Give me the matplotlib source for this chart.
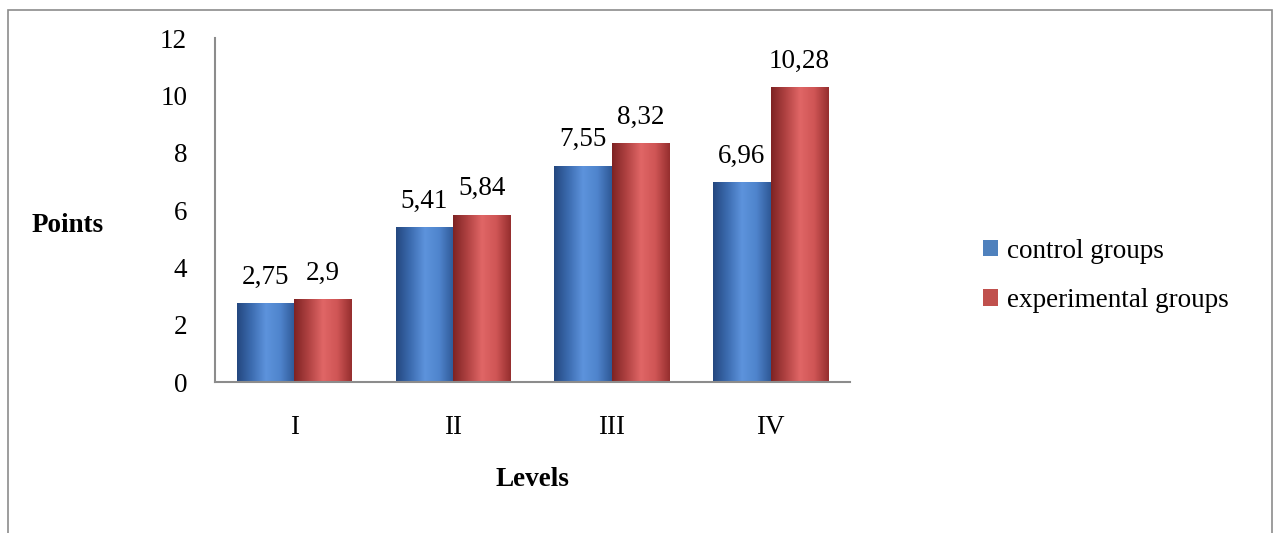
import numpy as np
import matplotlib.pyplot as plt
from matplotlib.colors import LinearSegmentedColormap
from matplotlib.patches import Rectangle

levels = ["I", "II", "III", "IV"]
control = [2.75, 5.41, 7.55, 6.96]
experimental = [2.9, 5.84, 8.32, 10.28]
control_labels = ["2,75", "5,41", "7,55", "6,96"]
experimental_labels = ["2,9", "5,84", "8,32", "10,28"]

plt.rcParams['font.family'] = ['Liberation Serif', 'DejaVu Serif']
FS = 19.5

fig = plt.figure(figsize=(12.77, 5.33), dpi=100)
fig.patches.append(Rectangle((8 / 1277, -0.01), 1264 / 1277, 1.01 - 10 / 533,
                             transform=fig.transFigure, fill=False,
                             edgecolor="#8c8c8c", linewidth=1.2))
ax = fig.add_axes([215 / 1277, 1 - 382 / 533, 635 / 1277, 344 / 533])

blue_cmap = LinearSegmentedColormap.from_list(
    "b", ["#24477f", "#3c6cb0", "#5d93dc", "#4f84cc", "#2e5896"])
red_cmap = LinearSegmentedColormap.from_list(
    "r", ["#7e2323", "#b04242", "#e06666", "#cf5555", "#952e2e"])

x = np.arange(len(levels))
w = 0.362
bc = ax.bar(x - w / 2, control, w, color="#4f81bd")
be = ax.bar(x + w / 2, experimental, w, color="#c0504d")

grad = np.linspace(0, 1, 256).reshape(1, -1)
for bars, cmap in [(bc, blue_cmap), (be, red_cmap)]:
    for b in bars:
        x0, y0 = b.get_x(), b.get_y()
        im = ax.imshow(grad, cmap=cmap, aspect="auto",
                       extent=[x0, x0 + b.get_width(), y0, y0 + b.get_height()],
                       zorder=b.get_zorder() + 0.1)
        im.set_clip_path(b)

for i in range(len(levels)):
    ax.annotate(control_labels[i], (x[i] - w / 2, control[i]),
                xytext=(0, 14), textcoords="offset points",
                ha="center", va="baseline", fontsize=FS)
    ax.annotate(experimental_labels[i], (x[i] + w / 2, experimental[i]),
                xytext=(0, 14), textcoords="offset points",
                ha="center", va="baseline", fontsize=FS)

ax.set_xlim(-0.5, 3.5)
ax.set_ylim(0, 12)
ax.set_yticks([0, 2, 4, 6, 8, 10, 12])
ax.set_xticks(x)
ax.set_xticklabels(levels)
ax.tick_params(axis="both", labelsize=FS, length=0)
ax.tick_params(axis="x", pad=24)
ax.tick_params(axis="y", pad=20)
for s in ["top", "right"]:
    ax.spines[s].set_visible(False)
for s in ["left", "bottom"]:
    ax.spines[s].set_color("#8c8c8c")
    ax.spines[s].set_linewidth(1.5)

fig.text(68 / 1277, 1 - 226 / 533, "Points", fontsize=FS, fontweight="bold",
         ha="center", va="center")
fig.text(532 / 1277, 1 - 479 / 533, "Levels", fontsize=FS, fontweight="bold",
         ha="center", va="center")

ax.legend([bc, be], ["control groups", "experimental groups"],
          loc="center left", bbox_to_anchor=(983 / 1277, 1 - 276 / 533),
          bbox_transform=fig.transFigure, frameon=False, fontsize=FS,
          handlelength=0.55, handleheight=0.55, handletextpad=0.35,
          labelspacing=0.9, borderpad=0, borderaxespad=0)

fig.savefig("out.png", dpi=100)
